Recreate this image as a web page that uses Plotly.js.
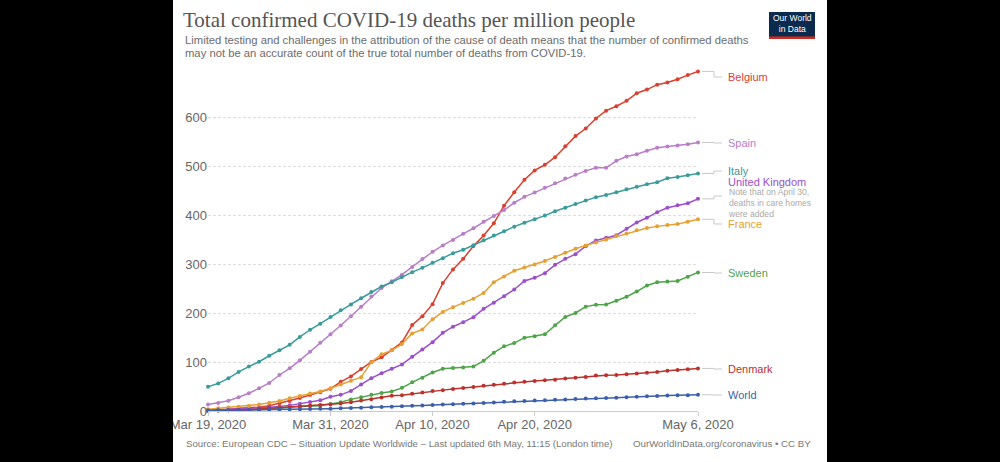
<!DOCTYPE html>
<html>
<head>
<meta charset="utf-8">
<script src="https://cdn.plot.ly/plotly-3.0.1.min.js"></script>
<style>
html,body{margin:0;padding:0;background:#000;}
#chart{width:1000px;height:462px;}
</style>
</head>
<body>
<div id="chart"></div>
<script>
// ---- data (values per million, Mar 19 .. May 6, 2020) ----
const startDate = '2020-03-19';
const nDays = 49;
const countries = ['Belgium','Spain','Italy','United Kingdom','France','Sweden','Denmark','World'];
const belgium = [1.2,1.8,3.3,5.8,6.6,7.8,10.7,15.8,20.5,26.5,32.5,38.5,45.5,59.5,70.5,85.5,100,109.5,124,140,175.5,193.5,218,261,289,310.5,336.5,358,383,419,446.5,472,491,502.5,518,540.5,561,576.5,597,613,622,633,648.5,656,666,670.5,677,685.5,693];
const spain = [13.2,16.5,21,28.2,36.2,46.2,57.2,73.5,87.2,103.4,121,139.1,156.6,174.5,193.5,213,233.5,251,264.7,278.3,294.1,310.3,325,338,349,361.6,373,386,398,410,425,437,446,455.4,465,474.5,482,490,496.2,496.2,510.6,519.4,524.1,531,537.1,539.8,541.8,544.6,548];
const italy = [49.3,56.3,66.7,79.8,90.6,100.5,112.8,124.1,135.0,151.1,165.8,178.3,191.7,205.6,217.6,230.1,242.8,254.1,262.8,273.3,283.3,292.2,302.3,311.8,322.0,329.1,338.5,348.4,358.0,366.7,376.2,384.2,391.3,398.8,407.7,414.9,422.6,429.5,436.4,440.7,446.2,452.5,457.9,462.6,467.0,474.9,477.7,481.0,484.9];
const uk = [2.2,2.7,3.5,4.2,5.0,6.3,7.0,9.0,11.5,15.0,18.5,22.0,29.0,33.0,41.0,54.0,67.0,77.0,86.0,95.0,110.5,125.5,140.5,159.5,172.0,181.3,191.5,208.5,221.0,234.4,248.0,265.5,271.8,281.3,298.3,310.5,320.0,336.4,348.0,353.4,358.8,371.8,384.7,394.3,405.8,414.7,420.0,424.1,433.0];
const france = [3.7,5.7,6.9,8.6,10.3,13.2,16.9,20.4,26.0,30.6,35.5,39.9,46.3,54.0,61.8,69.0,99.7,115.8,123.8,136.5,158.2,166.5,187.1,202.2,211.9,220.5,229.3,241.0,263.0,274.5,286.2,293.0,299.0,306.0,314.5,323.0,331.0,338.0,344.0,350.0,356.9,362.5,369.0,373.5,376.8,379.4,381.4,386.1,391.2];
const sweden = [1.0,1.1,1.6,2.0,2.1,2.5,3.6,6.1,7.6,9.1,10.1,10.9,14.5,17.8,23.7,27.9,33.0,36.9,39.7,47.2,58.5,68.0,78.5,86.1,87.8,89.0,91.0,102.3,119.0,132.0,138.6,149.6,152.5,156.4,174.8,191.8,200.0,213.0,217.0,217.2,225.1,233.2,243.8,256.0,262.7,264.3,265.2,274.2,282.6];
const denmark = [0.7,1.0,1.6,2.2,2.2,4.1,5.5,5.9,7.1,9.0,11.2,12.4,13.3,15.5,18.0,21.2,24.0,27.8,30.9,32.3,35.1,37.6,40.9,42.6,44.9,47.1,49.2,51.6,53.4,55.4,58.0,59.8,61.3,62.9,63.9,66.3,68.0,69.6,72.2,72.9,73.7,75.0,76.5,78.0,79.4,82.0,83.6,85.1,86.9];
const world = [1.1,1.3,1.5,1.7,1.9,2.1,2.4,2.7,3.1,3.5,3.9,4.4,4.8,5.4,6.0,6.8,7.6,8.3,8.9,9.6,10.5,11.4,12.3,13.2,13.9,14.6,15.3,16.2,17.3,18.7,19.7,20.5,21.2,21.8,22.8,23.6,24.5,25.3,26.1,26.6,27.2,28.0,29.3,30.0,30.6,31.4,31.9,32.3,33.0];
const series = [belgium, spain, italy, uk, france, sweden, denmark, world];
const colors = ['#d9412f','#b87ec8','#3a9a9c','#9b4fcb','#e6a032','#4fa44a','#bb322c','#3c5fac'];
const tickVals = ['2020-03-19','2020-03-31','2020-04-10','2020-04-20','2020-05-06'];
const tickText = ['Mar 19, 2020','Mar 31, 2020','Apr 10, 2020','Apr 20, 2020','May 6, 2020'];
const yTicks = [0,100,200,300,400,500,600];

const titleText = 'Total confirmed COVID-19 deaths per million people';
const subtitle1 = 'Limited testing and challenges in the attribution of the cause of death means that the number of confirmed deaths';
const subtitle2 = 'may not be an accurate count of the true total number of deaths from COVID-19.';
const sourceText = 'Source: European CDC – Situation Update Worldwide – Last updated 6th May, 11:15 (London time)';
const creditText = 'OurWorldInData.org/coronavirus • CC BY';
const ukNote = 'Note that on April 30,<br>deaths in care homes<br>were added';

// ---- build dates ----
const dates = [];
{
  const d0 = new Date(startDate + 'T00:00:00Z');
  for (let i = 0; i < nDays; i++) {
    const d = new Date(d0.getTime() + i * 86400000);
    dates.push(d.toISOString().slice(0, 10));
  }
}

// ---- layout geometry (pixels) ----
const W = 1000, H = 462;
const L = 208, R = 698, T = 68, B = 411;
const YMAX = 700;
const px = x => (x - L) / (R - L);
const py = y => (B - y) / (B - T);
const valToPix = v => B - v * (B - T) / YMAX;

const traces = series.map((s, i) => ({
  type: 'scatter', mode: 'lines+markers', x: dates, y: s,
  line: {color: colors[i], width: 1.5},
  marker: {color: colors[i], size: 4},
  cliponaxis: false, hoverinfo: 'skip', showlegend: false, name: countries[i]
}));

// label positions (pixel y) for end labels
const labelY = [77, 143, 171, 182, 224, 273, 369, 395];
const bendY = [77, 143, 171, 196, 224, 273, 369, 395];
const labelFont = 'Liberation Sans, Arial, sans-serif';

const annotations = [];
const shapes = [];

// black side bars
shapes.push({type:'rect', xref:'paper', yref:'paper', x0:px(0), x1:px(173), y0:py(H), y1:py(0), fillcolor:'#000', line:{width:0}, layer:'above'});
shapes.push({type:'rect', xref:'paper', yref:'paper', x0:px(827), x1:px(W), y0:py(H), y1:py(0), fillcolor:'#000', line:{width:0}, layer:'above'});

countries.forEach((c, i) => {
  const yEnd = valToPix(series[i][nDays - 1]);
  const yl = bendY[i];
  const path = `M ${px(702)},${py(yEnd)} L ${px(714)},${py(yEnd)} L ${px(714)},${py(yl)} L ${px(722)},${py(yl)}`;
  shapes.push({type:'path', xref:'paper', yref:'paper', path, line:{color:'#c8c8c8', width:1}});
  annotations.push({xref:'paper', yref:'paper', x:px(726), y:py(labelY[i]), xanchor:'left', yanchor:'middle',
    text: c, showarrow:false, font:{family:labelFont, size:11, color:colors[i]}});
});
annotations.push({xref:'paper', yref:'paper', x:px(726), y:py(202.5), xanchor:'left', yanchor:'middle', align:'left',
  text: ukNote, showarrow:false, font:{family:labelFont, size:8.6, color:'#aaaaaa'}});

// subtitle
annotations.push({xref:'paper', yref:'paper', x:px(183), y:py(40), xanchor:'left', yanchor:'middle',
  text: subtitle1, showarrow:false, font:{family:labelFont, size:11.25, color:'#6b6b6b'}});
annotations.push({xref:'paper', yref:'paper', x:px(183), y:py(53), xanchor:'left', yanchor:'middle',
  text: subtitle2, showarrow:false, font:{family:labelFont, size:11.25, color:'#6b6b6b'}});
// footer
annotations.push({xref:'paper', yref:'paper', x:px(184), y:py(444), xanchor:'left', yanchor:'middle',
  text: sourceText, showarrow:false, font:{family:labelFont, size:9.7, color:'#777'}});
annotations.push({xref:'paper', yref:'paper', x:px(813), y:py(444), xanchor:'right', yanchor:'middle',
  text: creditText, showarrow:false, font:{family:labelFont, size:9.7, color:'#777'}});

// logo
shapes.push({type:'rect', xref:'paper', yref:'paper', x0:px(769), x1:px(815), y0:py(39), y1:py(12), fillcolor:'#0c2a4d', line:{width:0}});
shapes.push({type:'rect', xref:'paper', yref:'paper', x0:px(769), x1:px(815), y0:py(39), y1:py(36.5), fillcolor:'#d52b1e', line:{width:0}});
annotations.push({xref:'paper', yref:'paper', x:px(792), y:py(24), xanchor:'center', yanchor:'middle',
  text:'Our World<br>in Data', showarrow:false, font:{family:labelFont, size:8.5, color:'#fff'}});

const layout = {
  width: W, height: H,
  margin: {l: L, r: W - R, t: T, b: H - B, pad: 0},
  paper_bgcolor: '#fff', plot_bgcolor: 'rgba(0,0,0,0)',
  title: {text: titleText, x: 183 / W, xanchor: 'left', xref: 'container', y: 1 - 20 / H, yanchor: 'middle', yref: 'container',
    font: {family: 'Liberation Serif, Times New Roman, serif', size: 21, color: '#555'}},
  xaxis: {type: 'date', range: [dates[0], dates[nDays - 1]], tickvals: tickVals, ticktext: tickText,
    showgrid: false, zeroline: false, showline: true, linecolor: '#cccccc', linewidth: 1,
    ticks: 'outside', ticklen: 4, tickcolor: '#cccccc', ticklabelstandoff: -3,
    tickfont: {family: labelFont, size: 13, color: '#666'}},
  yaxis: {range: [0, YMAX], tickvals: yTicks, showgrid: true, gridcolor: '#dddddd', griddash: '3px,2px', gridwidth: 1,
    zeroline: false, showline: false, ticks: '', tickfont: {family: labelFont, size: 13, color: '#666'}},
  annotations, shapes, showlegend: false
};

Plotly.newPlot('chart', traces, layout, {staticPlot: true, displayModeBar: false});
</script>
</body>
</html>
